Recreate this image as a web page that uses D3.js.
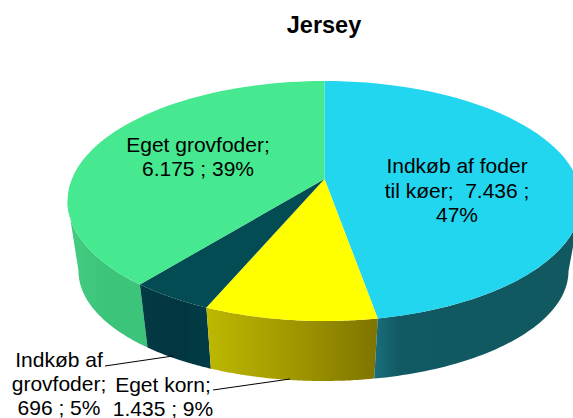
<!DOCTYPE html>
<html><head><meta charset="utf-8">
<script src="https://cdn.jsdelivr.net/npm/d3@7"></script>
<style>html,body{margin:0;padding:0;background:#fff;overflow:hidden}svg{display:block}text{font-family:"Liberation Sans",Arial,sans-serif;fill:#000;white-space:pre}</style>
</head><body><div id="c"></div>
<script>
const categories = ["Indkøb af foder til køer","Eget korn","Indkøb af grovfoder","Eget grovfoder"];
const values = [7436,1435,696,6175];
const labelLines = [
  ["Indkøb af foder","til køer;  7.436 ;","47%"],
  ["Eget korn;","1.435 ; 9%"],
  ["Indkøb af","grovfoder;","696 ; 5%"],
  ["Eget grovfoder;","6.175 ; 39%"]
];
const topColors = ["#23D6EF","#FFFF00","#044C54","#46E890"];
const sideStops = [
  ["#1A6E7C","#115A63","#115860"],
  ["#BDB800","#A09800","#7F7400"],
  ["#033A44","#023640","#023C46"],
  ["#44CC82","#3CC47A","#3CC47A"]
];
const stopOffsets = [[0,0.12,1],[0,0.5,1],[0,0.5,1],[0,0.5,1]];
const W=573,H=418;
const svg=d3.select("#c").append("svg").attr("width",W).attr("height",H);
const defs=svg.append("defs");
const pie=d3.pie().sort(null).value(d=>d);
const arcs=pie(values);
const persp=0.183;
const topPlane={cx:324.5,cy:201,rx:257,ry:120,c:persp};
const botPlane={cx:323.5,cy:271,rx:245,ry:110,c:persp};
function proj(p,a){
  const u=Math.sin(a),v=-Math.cos(a);
  const den=1-p.c*v;
  const d=p.rx*Math.sqrt(1-p.c*p.c);
  return [p.cx+d*u/den, p.cy+(p.ry*v-p.ry*p.c)/den];
}
function sample(a0,a1){return d3.range(0,61).map(i=>a0+(a1-a0)*i/60);}
const line=d3.line();
// side walls: only the front part, between the widest points of the rim
const widest=Math.acos(-persp);
const front=[widest,2*Math.PI-widest];
[3,2,1,0].forEach(i=>{
  const d=arcs[i];
  const a0=Math.max(d.startAngle,front[0]),a1=Math.min(d.endAngle,front[1]);
  const t=sample(a0,a1);
  const pts=t.map(a=>proj(topPlane,a)).concat(t.slice().reverse().map(a=>proj(botPlane,a)));
  const xs=pts.map(p=>p[0]);
  const g=defs.append("linearGradient").attr("id","s"+i).attr("gradientUnits","userSpaceOnUse")
    .attr("x1",d3.min(xs)).attr("x2",d3.max(xs)).attr("y1",0).attr("y2",0);
  sideStops[i].forEach((c,k)=>g.append("stop").attr("offset",stopOffsets[i][k]).attr("stop-color",c));
  svg.append("path").attr("d",line(pts)+"Z").attr("fill",`url(#s${i})`);
});
// top faces
const apex=[topPlane.cx,topPlane.cy-topPlane.ry*topPlane.c];
arcs.forEach((d,i)=>{
  const pts=[apex].concat(sample(d.startAngle,d.endAngle).map(a=>proj(topPlane,a)));
  svg.append("path").attr("d",line(pts)+"Z").attr("fill",topColors[i]);
});
// leader lines
const leaders=[[[105,366],[173,356]],[[213,390],[290,379]]];
leaders.forEach(l=>svg.append("path").attr("d",line(l)).attr("stroke","#000").attr("stroke-width",1).attr("fill","none"));
// labels
const labelPos=[[457,173],[163,392],[59,367],[198,152]];
const labelLead=[24.5,23.5,24,24];
labelLines.forEach((ls,i)=>{
  const t=svg.append("text").attr("text-anchor","middle").attr("font-size",21);
  ls.forEach((s,k)=>t.append("tspan").attr("x",labelPos[i][0]).attr("y",labelPos[i][1]+k*labelLead[i]).text(s));
});
svg.append("text").attr("x",324).attr("y",33).attr("text-anchor","middle").attr("font-size",23.5).attr("font-weight","bold").text("Jersey");
</script></body></html>
